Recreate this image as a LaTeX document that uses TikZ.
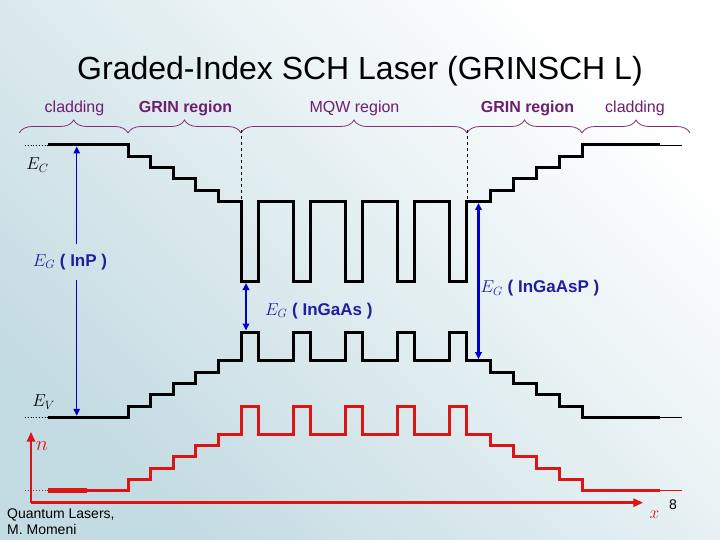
\documentclass[tikz,border=0pt]{standalone}
\usepackage{fontspec}
\setmainfont{Liberation Sans}
\usetikzlibrary{arrows.meta,decorations.pathreplacing}

\definecolor{bgblue}{RGB}{195,219,226}
\definecolor{bracepurple}{RGB}{130,45,120}
\definecolor{labelpurple}{RGB}{110,30,110}
\definecolor{egblue}{RGB}{0,0,200}
\definecolor{egtext}{RGB}{30,30,160}
\definecolor{nred}{RGB}{220,20,20}

% one band profile: cladding level, step per GRIN layer, well depth
\newcommand{\bandline}[3]{%
  (48,#1) -- (128,#1)
  \foreach \k in {1,...,5} { -- ++(0,#2) -- ++(22.6,0) }
  \foreach \k in {1,...,4} { -- ++(0,#3) -- ++(17.5,0) -- ++(0,{-1*(#3)}) -- ++(34.5,0) }
  -- ++(0,#3) -- ++(17.5,0) -- ++(0,{-1*(#3)}) -- ++(23.5,0)
  \foreach \k in {1,...,4} { -- ++(0,{-1*(#2)}) -- ++(23,0) }
  -- ++(0,{-1*(#2)}) -- (660,#1)}

\begin{document}
\begin{tikzpicture}[x=1pt, y=-1pt,
  band/.style={line width=3pt},
  bandend/.style={line width=0.9pt},
  regionbrace/.style={decorate, decoration={brace, amplitude=13pt}, bracepurple, line width=0.8pt},
  regionlabel/.style={anchor=base, text=labelpurple, font=\fontsize{16}{18}\selectfont},
  egarrow/.style={egblue, line width=2.4pt, {Triangle[length=7pt,width=6.5pt]}-{Triangle[length=7pt,width=6.5pt]}},
  eglabel/.style={text=egtext, font=\fontsize{17}{20}\selectfont\bfseries, inner sep=1pt},
  naxis/.style={nred, line width=2.5pt, -{Triangle[length=10pt,width=8pt]}}]

\useasboundingbox (0,0) rectangle (720,540);
\shade[top color=white, bottom color=bgblue, shading angle=-45] (0,0) rectangle (720,540);

\node[font=\fontsize{32}{36}\selectfont, anchor=base] (title) at (360,80) {Graded-Index SCH Laser (GRINSCH L)};

% regions
\node[regionlabel] (cladL) at (74.5,113) {cladding};
\node[regionlabel, font=\fontsize{16}{18}\selectfont\bfseries] (grinL) at (185.5,113) {GRIN region};
\node[regionlabel] (mqw) at (354.5,113) {MQW region};
\node[regionlabel, font=\fontsize{16}{18}\selectfont\bfseries] (grinR) at (527.5,113) {GRIN region};
\node[regionlabel] (cladR) at (635,113) {cladding};

\coordinate (b0) at (19.3,133);
\coordinate (b1) at (128,133);
\coordinate (b2) at (241,133);
\coordinate (b3) at (467,133);
\coordinate (b4) at (582,133);
\coordinate (b5) at (690,133);
\foreach \a/\b in {b0/b1, b1/b2, b2/b3, b3/b4, b4/b5}
  \draw[regionbrace] (\a) -- (\b);

\draw[dashed, line width=0.8pt] (241,130) -- (241,201.5);
\draw[dashed, line width=0.8pt] (467,130) -- (467,201.5);

% bands
\draw[band] \bandline{145}{11.3}{80};
\draw[band] \bandline{417.3}{-11.3}{-28.5};
\draw[band, nred] \bandline{490.7}{-11.3}{-27.7};
\draw[nred, line width=4.5pt] (48,490.7) -- (87,490.7);

\draw[bandend] (660,145) -- (682,145);
\draw[bandend] (660,417.3) -- (682,417.3);
\draw[bandend, nred] (660,490.7) -- (682,490.7);
\draw[dotted, line width=0.8pt] (25,145) -- (48,145);
\draw[dotted, line width=0.8pt] (25,417.3) -- (48,417.3);
\draw[dotted, line width=0.8pt, nred] (25,490.7) -- (48,490.7);

\node[font=\fontsize{17}{20}\selectfont] (ec) at (37.5,165) {$E_C$};
\node[font=\fontsize{17}{20}\selectfont] (ev) at (43.5,402) {$E_V$};

% band gaps
\coordinate (ecL) at (76.7,146.5);
\coordinate (evL) at (76.7,415.8);
\node[eglabel, inner ysep=10pt] (egInP) at (70,261.7) {$E_G$ ( InP )};
\draw[egblue, line width=1.2pt, {Triangle[length=7pt,width=6.5pt]}-] (ecL) -- (egInP.north -| ecL);
\draw[egblue, line width=1.2pt, -{Triangle[length=7pt,width=6.5pt]}] (egInP.south -| evL) -- (evL);

\coordinate (wellC) at (246,283);
\coordinate (wellV) at (246,330.5);
\draw[egarrow] (wellC) -- (wellV);
\node[eglabel, anchor=west] (egInGaAs) at (264,310.7) {$E_G$ ( InGaAs )};

\coordinate (barC) at (478.5,203);
\coordinate (barV) at (478.5,359.2);
\draw[egarrow] (barC) -- (barV);
\node[eglabel, anchor=west] (egInGaAsP) at (479.5,288.3) {$E_G$ ( InGaAsP )};

% index axes
\coordinate (origin) at (31,502.7);
\draw[naxis] (origin) -- (31,431.7);
\draw[naxis] (origin) -- (643.3,502.7);
\node[text=nred, font=\fontsize{20}{22}\selectfont] (nlabel) at (42,446) {$n$};
\node[text=nred, font=\fontsize{17}{19}\selectfont] (xlabel) at (654.5,515) {$x$};
\node[font=\fontsize{14}{16}\selectfont] (pagenum) at (673,504.3) {8};

\node[anchor=north west, align=left, inner sep=0pt, font=\fontsize{14}{16}\selectfont] (credit) at (7,509) {Quantum Lasers,\\M. Momeni};

\end{tikzpicture}
\end{document}
